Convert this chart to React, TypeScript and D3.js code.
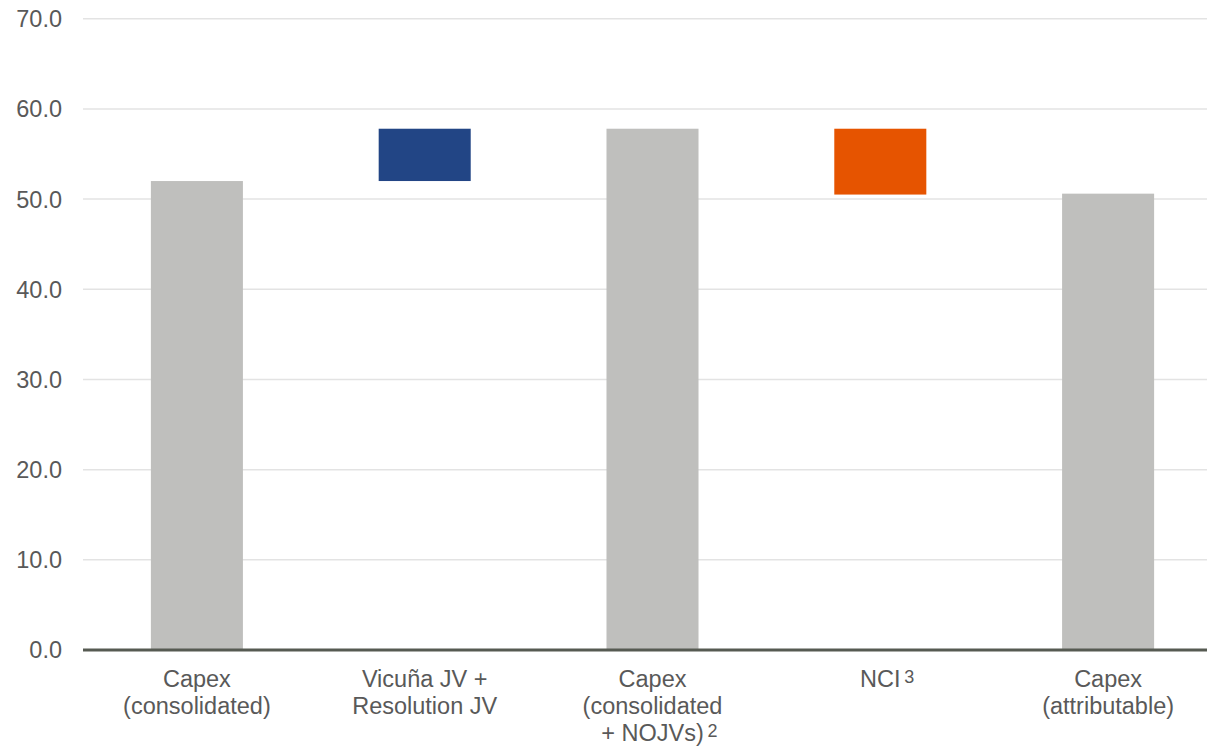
import React from "react";
import * as d3 from "d3";

const categories = ["Capex (consolidated)", "Vicuña JV + Resolution JV", "Capex (consolidated + NOJVs)", "NCI", "Capex (attributable)"];
const labelLines: string[][] = [
  ["Capex", "(consolidated)"],
  ["Vicuña JV +", "Resolution JV"],
  ["Capex", "(consolidated", "+ NOJVs)"],
  ["NCI"],
  ["Capex", "(attributable)"],
];
const superscripts = ["", "", "2", "3", ""];
const barStart = [0, 52.0, 0, 50.5, 0];
const barEnd = [52.0, 57.8, 57.8, 57.8, 50.6];
const barKind = ["total", "increase", "total", "decrease", "total"];
const yTicks = [0, 10, 20, 30, 40, 50, 60, 70];

const W = 1207;
const H = 746;
const FONT = "'Liberation Sans', Arial, sans-serif";
const TEXT = "#595959";
const COLORS: Record<string, string> = { total: "#BFBFBD", increase: "#224585", decrease: "#E65400" };

export default function App() {
  const y = d3.scaleLinear().domain([0, 70]).range([650, 18.7]);
  const x = d3.scaleBand<string>().domain(categories).range([83, 1222]).paddingInner(0.596).paddingOuter(0.298);
  const fs = 23.5;
  const lh = 27;
  const base = 687;
  return (
    <div style={{ position: "absolute", left: 0, top: 0 }}>
      <svg width={W} height={H} style={{ display: "block" }} fontFamily={FONT}>
        <rect width={W} height={H} fill="#fff" />
        {yTicks.map((t) => (
          <g key={t}>
            {t > 0 && <line x1={83} x2={W} y1={y(t)} y2={y(t)} stroke="#E3E3E3" strokeWidth={1.5} />}
            <text x={62} y={y(t)} dy="0.36em" textAnchor="end" fontSize={fs} fill={TEXT}>
              {d3.format(".1f")(t)}
            </text>
          </g>
        ))}
        {categories.map((c, i) => {
          const lo = Math.min(barStart[i], barEnd[i]);
          const hi = Math.max(barStart[i], barEnd[i]);
          return (
            <rect key={c} x={x(c)} width={x.bandwidth()} y={y(hi)} height={y(lo) - y(hi)} fill={COLORS[barKind[i]]} />
          );
        })}
        <line x1={83} x2={W} y1={y(0)} y2={y(0)} stroke="#565A52" strokeWidth={3} />
        {categories.map((c, i) => {
          const cx = (x(c) as number) + x.bandwidth() / 2;
          const lines = labelLines[i];
          return (
            <g key={"l" + c}>
              {lines.map((ln, j) => {
                const last = j === lines.length - 1;
                const by = base + j * lh;
                return (
                  <g key={j}>
                    <text x={cx} y={by} textAnchor="middle" fontSize={fs} fill={TEXT}>
                      {ln}
                    </text>
                    {last && superscripts[i] && (
                      <text
                        x={cx + (ln.length > 4 ? 55 : 24)}
                        y={by - 4.5}
                        fontSize={18}
                        fill={TEXT}
                      >
                        {superscripts[i]}
                      </text>
                    )}
                  </g>
                );
              })}
            </g>
          );
        })}
      </svg>
    </div>
  );
}
